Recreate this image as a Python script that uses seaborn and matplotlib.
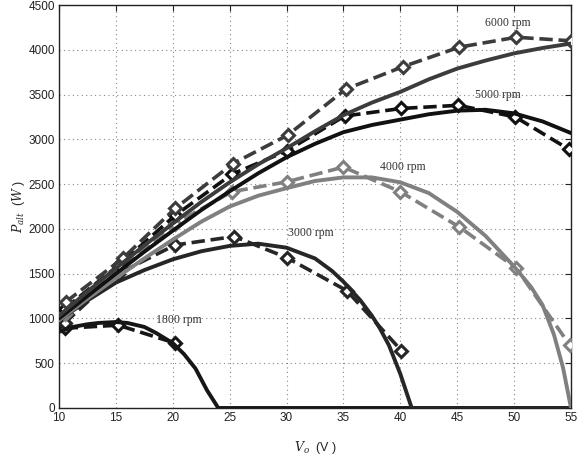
import numpy as np
import pandas as pd
import matplotlib
matplotlib.use("Agg")
import matplotlib.pyplot as plt
import seaborn as sns

# ---- data ----
speeds = ["1800 rpm", "3000 rpm", "4000 rpm", "5000 rpm", "6000 rpm"]

# model (solid) curves
v_1800 = [10, 11, 12.5, 13.5, 15, 16, 17.5, 18.5, 20, 21, 22, 23, 24, 30, 40, 55]
p_1800 = [850, 900, 935, 950, 960, 950, 905, 840, 725, 600, 440, 200, 0, 0, 0, 0]
v_3000 = [10, 12.5, 15, 17.5, 20, 22.5, 25, 27.5, 30, 32.5, 34, 35, 36.5, 37.5, 38.2, 39, 40, 41, 55]
p_3000 = [980, 1200, 1400, 1540, 1660, 1750, 1810, 1835, 1790, 1670, 1530, 1410, 1200, 1030, 890, 700, 380, 0, 0]
v_4000 = [10, 12.5, 15, 17.5, 20, 22.5, 25, 27.5, 30, 32.5, 35, 37.5, 40, 42.5, 45, 47.5, 50, 51.5, 52.5, 53.5, 54.3, 55]
p_4000 = [980, 1220, 1450, 1670, 1880, 2080, 2250, 2370, 2455, 2535, 2575, 2575, 2520, 2400, 2190, 1920, 1580, 1350, 1150, 820, 450, 0]
v_5000 = [10, 12.5, 15, 17.5, 20, 22.5, 25, 27.5, 30, 32.5, 35, 37.5, 40, 42.5, 45, 47.5, 50, 52.5, 55]
p_5000 = [1000, 1250, 1500, 1745, 1980, 2210, 2420, 2620, 2800, 2950, 3080, 3160, 3220, 3280, 3320, 3330, 3290, 3200, 3070]
v_6000 = [10, 12.5, 15, 17.5, 20, 22.5, 25, 27.5, 30, 32.5, 35, 37.5, 40, 42.5, 45, 47.5, 50, 52.5, 55]
p_6000 = [1030, 1300, 1560, 1815, 2060, 2300, 2520, 2720, 2900, 3090, 3270, 3410, 3530, 3670, 3790, 3880, 3960, 4020, 4070]

# measured (dashed + diamonds)
mv_1800 = [10.5, 15.2, 20.2]
mp_1800 = [890, 925, 725]
mv_3000 = [10.5, 15.2, 20.2, 25.4, 30.0, 35.3, 40.1]
mp_3000 = [950, 1500, 1820, 1915, 1680, 1310, 640]
mv_4000 = [10.5, 15.3, 20.2, 25.2, 30.0, 35.0, 40.0, 45.2, 50.2, 54.9]
mp_4000 = [1050, 1540, 2060, 2415, 2525, 2690, 2415, 2020, 1560, 700]
mv_5000 = [10.5, 15.3, 20.2, 25.2, 30.0, 35.1, 40.1, 45.1, 50.1, 54.8]
mp_5000 = [1110, 1600, 2150, 2610, 2870, 3260, 3345, 3380, 3250, 2890]
mv_6000 = [10.6, 15.6, 20.2, 25.3, 30.1, 35.2, 40.2, 45.2, 50.2, 55.0]
mp_6000 = [1185, 1670, 2228, 2730, 3047, 3560, 3810, 4030, 4140, 4100]

colors = {"1800 rpm": "#161616", "3000 rpm": "#262626", "4000 rpm": "#808080",
          "5000 rpm": "#111111", "6000 rpm": "#3c3c3c"}

model = {"1800 rpm": (v_1800, p_1800), "3000 rpm": (v_3000, p_3000),
         "4000 rpm": (v_4000, p_4000), "5000 rpm": (v_5000, p_5000),
         "6000 rpm": (v_6000, p_6000)}
meas = {"1800 rpm": (mv_1800, mp_1800), "3000 rpm": (mv_3000, mp_3000),
        "4000 rpm": (mv_4000, mp_4000), "5000 rpm": (mv_5000, mp_5000),
        "6000 rpm": (mv_6000, mp_6000)}

label_pos = {"6000 rpm": (47.4, 4300), "5000 rpm": (46.6, 3500),
             "4000 rpm": (38.2, 2690), "3000 rpm": (30.1, 1950),
             "1800 rpm": (18.5, 980)}

sns.set_style("white")
plt.rcParams["font.family"] = ["Liberation Sans", "DejaVu Sans"]
plt.rcParams["mathtext.fontset"] = "dejavuserif"

fig = plt.figure(figsize=(5.84, 4.55), dpi=100)
ax = fig.add_axes([59 / 584, 1 - 408 / 455, 512 / 584, 403 / 455])

for s in speeds:
    mv, mp = meas[s]
    sns.lineplot(x=mv, y=mp, ax=ax, color=colors[s], lw=2.6, sort=False,
                 estimator=None, marker="D", markersize=6.5, markerfacecolor="white",
                 markeredgecolor=colors[s], markeredgewidth=2.2,
                 linestyle="--", dashes=(3, 2), zorder=3)
for s in speeds:
    v, p = model[s]
    sns.lineplot(x=v, y=p, ax=ax, color=colors[s], lw=2.8, sort=False,
                 estimator=None, zorder=4)

for s in speeds:
    x, y = label_pos[s]
    ax.text(x, y, s, fontsize=8.5, family=["Liberation Serif", "DejaVu Serif"],
            color="#333333", va="center", ha="left", zorder=5)

ax.set_xlim(10, 55)
ax.set_ylim(0, 4500)
ax.set_xticks(np.arange(10, 56, 5))
ax.set_yticks(np.arange(0, 4501, 500))
ax.grid(True, linestyle=(0, (1, 3)), color="#888888", linewidth=0.8)
ax.tick_params(direction="in", top=True, right=True, length=4, width=0.8,
               labelsize=8.5, colors="#222222", pad=3)
for sp in ax.spines.values():
    sp.set_color("#222222")
    sp.set_linewidth(1.0)

ax.set_xlabel(r"$V_o$  (V )", fontsize=9, labelpad=11)
ax.set_ylabel(r"$P_{alt}$  ($W$ )", fontsize=9, labelpad=1)

fig.savefig("out.png", dpi=100)
